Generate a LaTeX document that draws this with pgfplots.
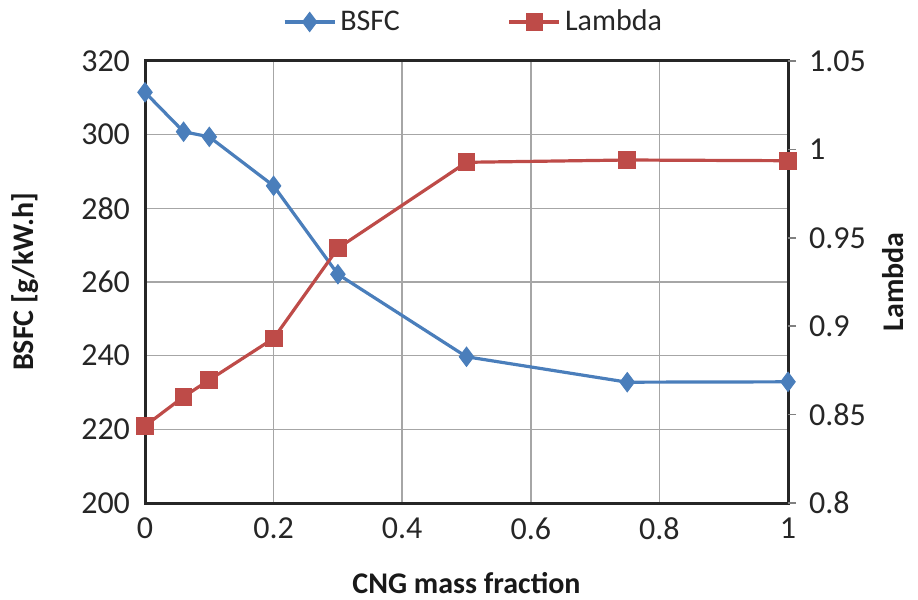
\documentclass[border=0pt]{standalone}
\usepackage{pgfplots}
\pgfplotsset{compat=1.18}
\usepackage{fontspec}
\setmainfont{Carlito}
\definecolor{bsfcblue}{HTML}{4A7EBB}
\definecolor{lamred}{HTML}{BE4B48}
\definecolor{gridgray}{HTML}{A6A6A6}

\begin{document}
\begin{tikzpicture}
\pgfplotsset{
  common/.style={
    scale only axis, width=321.5pt, height=221pt,
    xmin=0, xmax=1, clip=false,
    tick label style={font=\fontsize{16}{18}\selectfont, text=black!85},
    /pgf/number format/assume math mode=true,
    label style={font=\fontsize{15}{17}\selectfont\bfseries, text=black!90},
  },
  bsfcstyle/.style={color=bsfcblue, line width=1.6pt, mark=diamond*,
    mark size=4.8pt, mark options={solid, fill=bsfcblue, draw=bsfcblue, line width=0.5pt}},
  lamstyle/.style={color=lamred, line width=1.6pt, mark=square*,
    mark size=4.2pt, mark options={solid, fill=lamred, draw=lamred, line width=0.5pt}},
}
% left axis: brake specific fuel consumption
\begin{axis}[common, name=main,
  ymin=200, ymax=320, ytick={200,220,240,260,280,300,320},
  xtick={0,0.2,0.4,0.6,0.8,1},
  grid=major, major grid style={gridgray, line width=0.8pt},
  major tick length=0pt,
  axis line style={black!85, line width=1.5pt},
  xticklabel style={yshift=-4pt},
  yticklabel style={xshift=-4pt},
  xlabel={CNG mass fraction},
  ylabel={BSFC [g/kW.h]},
  xlabel style={at={(axis description cs:0.5,-0.181)}, anchor=center},
  ylabel style={at={(axis description cs:-0.187,0.5)}, anchor=center, rotate=0},
  legend columns=2,
  legend style={at={(axis description cs:0.5,1)}, anchor=center,
    xshift=4pt, yshift=19.5pt, draw=none, fill=none,
    font=\fontsize{15}{17}\selectfont, text=black!85,
    /tikz/every even column/.append style={column sep=52pt}},
  legend image code/.code={%
    \draw[mark repeat=2, mark phase=2, #1]
      plot coordinates {(0pt,0pt) (12.5pt,0pt) (25pt,0pt)};},
]
\addplot[bsfcstyle] coordinates {
  (0,311.5) (0.06,300.8) (0.1,299.4) (0.2,286.1)
  (0.3,262.1) (0.5,239.7) (0.75,232.8) (1,232.9)
};
\addlegendentry{BSFC}
\addlegendimage{lamstyle}
\addlegendentry{Lambda}
\end{axis}

% right axis: relative air/fuel ratio
\begin{axis}[common,
  ymin=0.8, ymax=1.05, ytick={0.8,0.85,0.9,0.95,1,1.05},
  axis x line=none, axis y line*=right,
  axis line style={draw=none},
  tick align=outside, major tick length=4pt,
  ytick style={draw=gray, line width=0.8pt},
  yticklabel style={xshift=3pt,
    /pgf/number format/.cd, fixed, precision=2},
  ylabel={Lambda},
  ylabel style={at={(axis description cs:1.163,0.5)}, anchor=center, rotate=0},
]
\addplot[lamstyle] coordinates {
  (0,0.8436) (0.06,0.8601) (0.1,0.8696) (0.2,0.8931)
  (0.3,0.9441) (0.5,0.9927) (0.75,0.9940) (1,0.9936)
};
\end{axis}

\pgfresetboundingbox
\path[use as bounding box] ([shift={(-72.5pt,-48pt)}]main.south west)
  rectangle ([shift={(65pt,30.5pt)}]main.north east);
\end{tikzpicture}
\end{document}
